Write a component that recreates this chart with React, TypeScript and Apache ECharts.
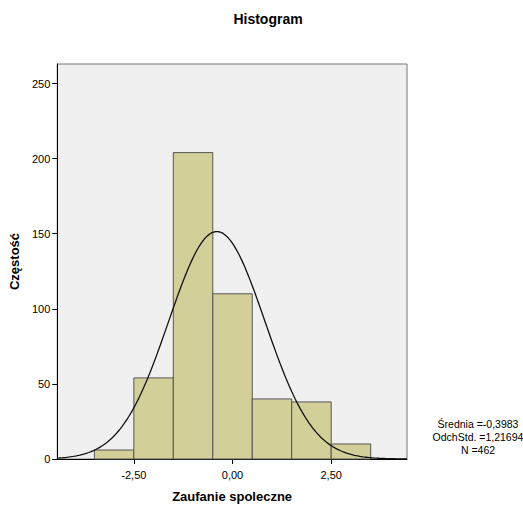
import React, { useEffect, useRef } from "react";
import * as echarts from "echarts";

const binStarts = [-3.5, -2.5, -1.5, -0.5, 0.5, 1.5, 2.5];
const binWidth = 1;
const counts = [6, 54, 204, 110, 40, 38, 10];
const xTickValues = [-2.5, 0, 2.5];
const statMean = -0.3983;
const statSD = 1.21694;
const statN = 462;
const statLines = ["Średnia =-0,3983", "OdchStd. =1,21694", "N =462"];

const FONT = "'Liberation Sans Narrow', 'Liberation Sans', Arial, sans-serif";
const XMIN = -4.44;
const XMAX = 4.42;

export default function App() {
  const ref = useRef<HTMLDivElement>(null);
  useEffect(() => {
    if (!ref.current) return;
    const chart = echarts.init(ref.current, null, { renderer: "svg" });
    const curve: number[][] = [];
    const steps = 200;
    for (let i = 0; i <= steps; i++) {
      const x = XMIN + ((XMAX - XMIN) * i) / steps;
      const z = (x - statMean) / statSD;
      const y = (statN * binWidth * Math.exp(-0.5 * z * z)) / (statSD * Math.sqrt(2 * Math.PI));
      curve.push([x, y]);
    }
    const barData = binStarts.map((s, i) => [s, s + binWidth, counts[i]]);
    chart.setOption({
      animation: false,
      backgroundColor: "#ffffff",
      title: {
        text: "Histogram",
        left: 263,
        top: 7,
        textAlign: "center",
        textStyle: { fontFamily: FONT, fontSize: 14, fontWeight: "bold", color: "#000" },
      },
      grid: {
        left: 53,
        right: 116,
        top: 64,
        bottom: 50,
        show: true,
        backgroundColor: "#f0f0f0",
        borderColor: "#777",
        borderWidth: 1,
      },
      xAxis: {
        type: "value",
        min: XMIN,
        max: XMAX,
        name: "Zaufanie spoleczne",
        nameLocation: "middle",
        nameGap: 31,
        nameTextStyle: { fontFamily: FONT, fontSize: 13, fontWeight: "bold", color: "#000" },
        axisLine: { show: true, onZero: false, lineStyle: { color: "#000", width: 1 } },
        axisTick: { show: true, length: 5, customValues: xTickValues, lineStyle: { color: "#000" } },
        axisLabel: {
          customValues: xTickValues,
          fontFamily: FONT,
          fontSize: 11,
          color: "#000",
          margin: 10,
          formatter: (v: number) => v.toFixed(2).replace(".", ","),
        },
        splitLine: { show: false },
      },
      yAxis: {
        type: "value",
        min: 0,
        max: 263,
        interval: 50,
        name: "Częstość",
        nameLocation: "middle",
        nameGap: 27,
        nameTextStyle: { fontFamily: FONT, fontSize: 13, fontWeight: "bold", color: "#000" },
        axisLine: { show: true, onZero: false, lineStyle: { color: "#000", width: 1 } },
        axisTick: { show: true, length: 5, lineStyle: { color: "#000" } },
        axisLabel: { fontFamily: FONT, fontSize: 11, color: "#000", margin: 7, showMaxLabel: false },
        splitLine: { show: false },
      },
      series: [
        {
          type: "custom",
          data: barData,
          encode: { x: [0, 1], y: 2 },
          renderItem: (params: any, api: any) => {
            const p0 = api.coord([api.value(0), 0]);
            const p1 = api.coord([api.value(1), api.value(2)]);
            return {
              type: "rect",
              shape: { x: p0[0], y: p1[1], width: p1[0] - p0[0], height: p0[1] - p1[1] },
              style: { fill: "#d3cf98", stroke: "#555555", lineWidth: 1 },
            };
          },
          z: 2,
        },
        {
          type: "line",
          data: curve,
          showSymbol: false,
          symbol: "none",
          smooth: false,
          lineStyle: { color: "#111", width: 1.3 },
          clip: true,
          z: 3,
        },
      ],
      graphic: statLines.map((t, i) => ({
        type: "text",
        x: 478,
        y: 418 + i * 13,
        style: {
          text: t,
          fontFamily: FONT,
          fontSize: 10.5,
          fill: "#000",
          align: "center",
          verticalAlign: "top",
        },
      })),
    });
    return () => chart.dispose();
  }, []);
  return (
    <div
      ref={ref}
      style={{ width: 523, height: 509, position: "absolute", left: 0, top: 0 }}
    />
  );
}
